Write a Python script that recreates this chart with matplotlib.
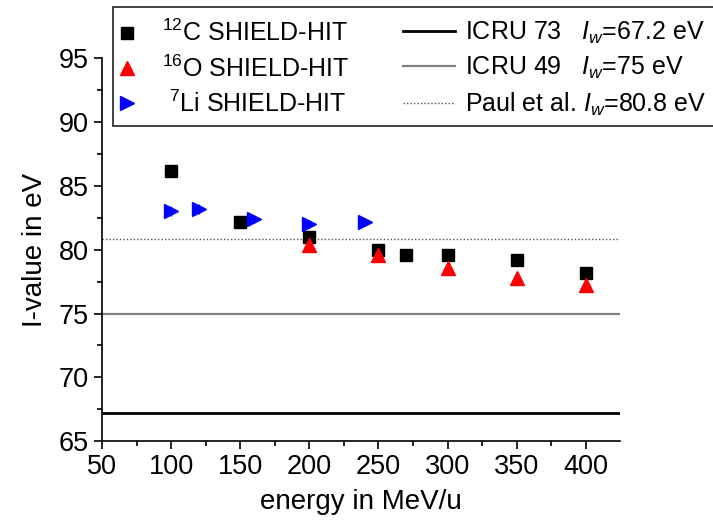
import numpy as np
import matplotlib
matplotlib.use("Agg")
import matplotlib.pyplot as plt
from matplotlib.lines import Line2D
from matplotlib.patches import Rectangle

plt.rcParams['font.family'] = ['Liberation Sans', 'DejaVu Sans']
plt.rcParams['mathtext.fontset'] = 'custom'
plt.rcParams['mathtext.rm'] = 'Liberation Sans'
plt.rcParams['mathtext.it'] = 'Liberation Sans:italic'

# SHIELD-HIT fitted I-values per beam energy
c_energy = [100, 150, 200, 250, 270, 300, 350, 400]
c_ival = [86.2, 82.2, 81.0, 80.0, 79.6, 79.6, 79.2, 78.2]

o_energy = [200, 250, 300, 350, 400]
o_ival = [80.4, 79.6, 78.6, 77.8, 77.2]
o_err = [0.4, 0.4, 0.4, 0.4, 0.4]

li_energy = [100, 120, 160, 200, 240]
li_ival = [83.0, 83.2, 82.4, 82.0, 82.2]
li_err = [0.4, 0.4, 0.3, 0.3, 0.3]

ion_labels = ['$^{12}$C SHIELD-HIT', '$^{16}$O SHIELD-HIT', ' $^{7}$Li SHIELD-HIT']

# reference I-values of water
ref_labels = ['ICRU 73   $I_w$=67.2 eV', 'ICRU 49   $I_w$=75 eV', 'Paul et al. $I_w$=80.8 eV']
ref_values = [67.2, 75.0, 80.8]

fig = plt.figure(figsize=(7.13, 5.24), dpi=100)
ax = fig.add_axes([0.143, 0.158, 0.727, 0.731])

l73 = ax.axhline(ref_values[0], color='black', lw=2)
l49 = ax.axhline(ref_values[1], color='#808080', lw=1.6)
lpaul = ax.axhline(ref_values[2], color='#555555', lw=1, ls=(0, (1, 1.5)))

ax.plot(c_energy, c_ival, 's', color='black', ms=8.5)
ax.errorbar(o_energy, o_ival, yerr=o_err, fmt='^', color='red', ms=10,
            elinewidth=1, capsize=0)
ax.errorbar(li_energy, li_ival, yerr=li_err, fmt='>', color='blue', ms=10,
            elinewidth=1, capsize=0)

ax.set_xlim(50, 425)
ax.set_ylim(65, 95)
ax.set_xticks(np.arange(50, 401, 50))
ax.set_yticks(np.arange(65, 96, 5))
ax.set_xticks(np.arange(75, 425, 50), minor=True)
ax.set_yticks(np.arange(67.5, 95, 5), minor=True)
ax.tick_params(axis='both', which='major', labelsize=19.5, length=6, width=1.2, direction='out')
ax.tick_params(axis='both', which='minor', length=3.5, width=1.2, direction='out')
ax.spines['top'].set_visible(False)
ax.spines['right'].set_visible(False)
ax.spines['left'].set_linewidth(1.2)
ax.spines['bottom'].set_linewidth(1.2)

ax.set_xlabel('energy in MeV/u', fontsize=20, labelpad=6)
ax.set_ylabel('I-value in eV', fontsize=20, labelpad=8)

# legend box spanning both columns, runs off the right edge
fig.patches.append(Rectangle((0.1585, 0.7595), 0.9, 0.2271, transform=fig.transFigure,
                             fill=True, facecolor='white', edgecolor='#222222',
                             lw=1.2, zorder=5))

ion_handles = [
    Line2D([], [], ls='none', marker='s', color='black', ms=8),
    Line2D([], [], ls='none', marker='^', color='red', ms=10),
    Line2D([], [], ls='none', marker='>', color='blue', ms=10),
]
leg1 = fig.legend(ion_handles, ion_labels, loc='upper left', bbox_to_anchor=(0.160, 0.962),
                  fontsize=18, frameon=False, handlelength=1.0, handletextpad=0.9,
                  labelspacing=0.36, borderpad=0, borderaxespad=0)
leg2 = fig.legend([l73, l49, lpaul], ref_labels, loc='upper left', bbox_to_anchor=(0.565, 0.962),
                  fontsize=18, frameon=False, handlelength=2.1, handletextpad=0.4,
                  labelspacing=0.36, borderpad=0, borderaxespad=0)
leg1.set_zorder(6)
leg2.set_zorder(6)

fig.savefig('out.png', dpi=100)
